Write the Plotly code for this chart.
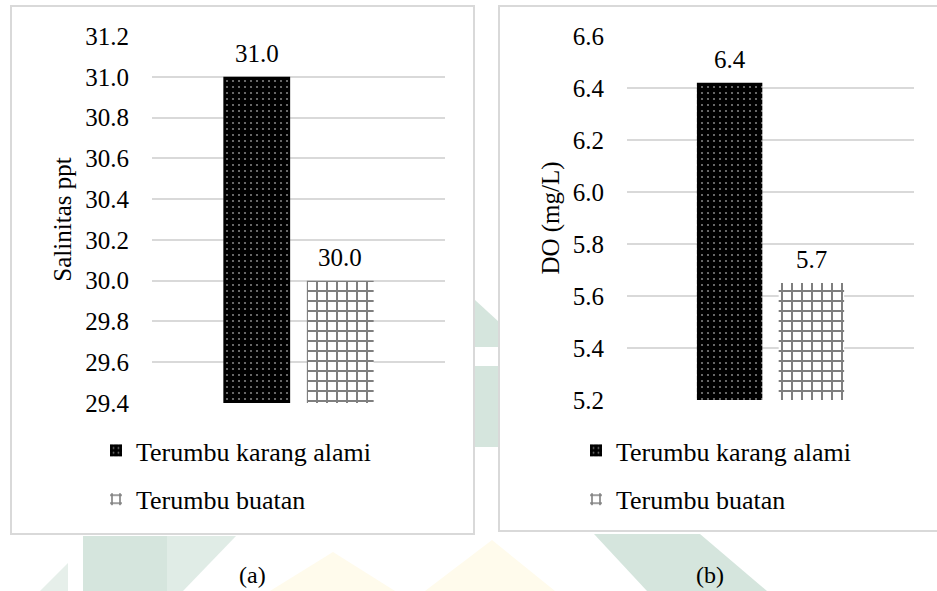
import plotly.graph_objects as go

# ---- data ----
series_names = ["Terumbu karang alami", "Terumbu buatan"]
salinitas = [31.0, 30.0]          # ppt
do_values = [6.42, 5.65]          # mg/L
panel_labels = ["(a)", "(b)"]
y_titles = ["Salinitas ppt", "DO (mg/L)"]
y_ranges = [[29.4, 31.2], [5.2, 6.6]]

W, H = 937, 591
FONT = "Liberation Serif"
BARGAP = 0.43
GROUPGAP = 0.2


def px(x):
    return x / W


def py(y):
    return 1 - y / H


dot_pattern = dict(shape=".", bgcolor="black", fgcolor="white", size=6, solidity=0.1)
grid_pattern = dict(shape="+", bgcolor="white", fgcolor="black", size=10, solidity=0.36)
patterns = [dot_pattern, grid_pattern]
fills = ["black", "white"]

fig = go.Figure()

panels = [("x", "y", "legend", salinitas), ("x2", "y2", "legend2", do_values)]
for xa, ya, lg, vals in panels:
    for i, name in enumerate(series_names):
        fig.add_trace(go.Bar(
            x=[0], y=[vals[i]], name=name,
            xaxis=xa, yaxis=ya, legend=lg, legendgroup=f"{lg}-{i}",
            marker=dict(color=fills[i], pattern=patterns[i], line=dict(width=0)),
        ))
        # value label above each bar (centre of the i-th slot of the group)
        slot = (1 - BARGAP) / 2
        fig.add_annotation(
            x=(i - 0.5) * slot, y=vals[i], xref=xa, yref=ya,
            text=f"{vals[i]:.1f}", showarrow=False,
            xanchor="center", yanchor="bottom", yshift=8,
            font=dict(family=FONT, size=25, color="black"),
        )

axis_common = dict(showline=False, zeroline=False, ticks="", automargin=False)
xaxis_common = dict(axis_common, type="linear", range=[-0.5, 0.5],
                    showticklabels=False, showgrid=False)
yaxis_common = dict(
    axis_common, dtick=0.2, tickformat=".1f", showgrid=True,
    gridcolor="#d9d9d9", gridwidth=1.5,
    tickfont=dict(family=FONT, size=25, color="black"),
    ticklabelstandoff=22,
)
title_font = dict(family=FONT, size=25, color="black")
legend_common = dict(xanchor="left", yanchor="top",
                     font=dict(family=FONT, size=26, color="black"),
                     bgcolor="rgba(0,0,0,0)", tracegroupgap=12, traceorder="grouped")

fig.update_layout(
    width=W, height=H,
    margin=dict(l=0, r=0, t=0, b=0, autoexpand=False),
    font=dict(family=FONT, color="black"),
    paper_bgcolor="white", plot_bgcolor="rgba(0,0,0,0)",
    barmode="group", bargap=BARGAP, bargroupgap=GROUPGAP,
    showlegend=True,
    xaxis=dict(xaxis_common, domain=[px(152), px(445)], anchor="y"),
    yaxis=dict(yaxis_common, domain=[py(403), py(36)], range=y_ranges[0], anchor="x",
               title=dict(text=y_titles[0], font=title_font, standoff=6)),
    xaxis2=dict(xaxis_common, domain=[px(627), px(914)], anchor="y2"),
    yaxis2=dict(yaxis_common, domain=[py(400), py(36)], range=y_ranges[1], anchor="x2",
                title=dict(text=y_titles[1], font=title_font, standoff=6)),
    legend=dict(legend_common, x=px(96), y=py(427)),
    legend2=dict(legend_common, x=px(576), y=py(427)),
)

# faint background emblem behind the two chart boxes
green = "#d5e5dd"
yellow = "#fffbec"


def poly(points, color):
    path = "M " + " L ".join(f"{px(x):.5f},{py(y):.5f}" for x, y in points) + " Z"
    return dict(type="path", path=path, xref="paper", yref="paper",
                fillcolor=color, line=dict(width=0), layer="below")


shapes = [
    poly([(83, 536), (167, 536), (167, 591), (83, 591)], green),
    poly([(167, 536), (236, 536), (183, 591), (167, 591)], "#e0ece6"),
    poly([(40, 591), (68, 563), (68, 591)], "#e6efea"),
    poly([(270, 591), (333, 552), (395, 591)], yellow),
    poly([(425, 591), (492, 540), (555, 591)], yellow),
    poly([(594, 534), (700, 534), (767, 591), (647, 591)], green),
    poly([(475, 300), (499, 322), (499, 347), (475, 347)], green),
    poly([(475, 366), (499, 366), (499, 447), (475, 447)], green),
    # chart boxes
    dict(type="rect", xref="paper", yref="paper", x0=px(11), x1=px(474), y0=py(534), y1=py(6),
         fillcolor="white", line=dict(color="#d9d9d9", width=2), layer="below"),
    dict(type="rect", xref="paper", yref="paper", x0=px(499), x1=px(940), y0=py(531), y1=py(6),
         fillcolor="white", line=dict(color="#d9d9d9", width=2), layer="below"),
]
fig.update_layout(shapes=shapes)

for label, cx in zip(panel_labels, [252, 710]):
    fig.add_annotation(text=label, x=px(cx), y=py(575), xref="paper", yref="paper",
                       showarrow=False, xanchor="center", yanchor="middle",
                       font=dict(family=FONT, size=24, color="black"))

fig.write_html("out.html")
